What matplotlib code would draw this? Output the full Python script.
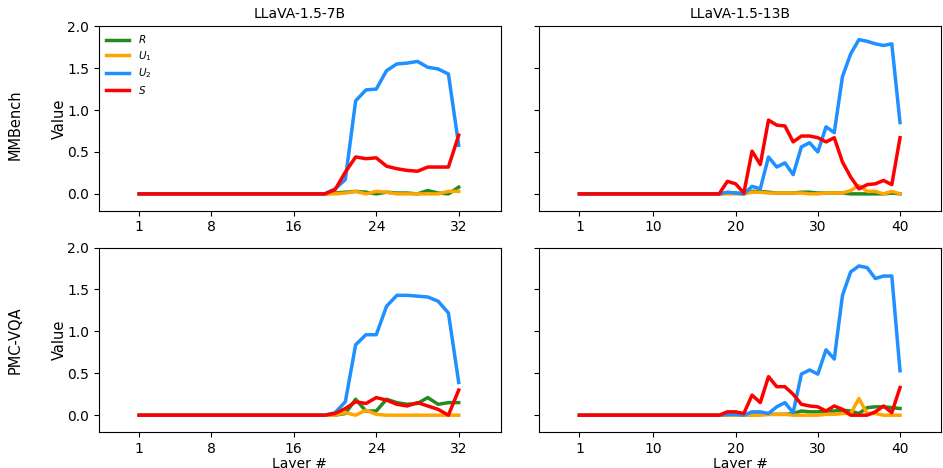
import matplotlib.pyplot as plt
import numpy as np

# layers
layers_7b = np.arange(1, 33)
layers_13b = np.arange(1, 41)

# LLaVA-1.5-7B, MMBench (layers 1..18 are zero)
mmb7_R = [0.0] * 18 + [0.0, 0.01, 0.02, 0.03, 0.02, 0.0, 0.02, 0.01, 0.01, 0.0, 0.04, 0.01, 0.0, 0.08]
mmb7_U1 = [0.0] * 18 + [0.0, 0.0, 0.01, 0.03, 0.0, 0.03, 0.02, 0.0, 0.0, 0.0, 0.0, 0.0, 0.03, 0.03]
mmb7_U2 = [0.0] * 18 + [0.0, 0.06, 0.17, 1.11, 1.24, 1.25, 1.47, 1.55, 1.56, 1.58, 1.51, 1.49, 1.43, 0.58]
mmb7_S = [0.0] * 18 + [0.0, 0.05, 0.26, 0.44, 0.42, 0.43, 0.33, 0.30, 0.28, 0.27, 0.32, 0.32, 0.32, 0.70]

# LLaVA-1.5-13B, MMBench (layers 1..17 are zero)
mmb13_R = [0.0] * 17 + [0.0, 0.01, 0.01, 0.0, 0.03, 0.03, 0.02, 0.01, 0.01, 0.01, 0.02, 0.02, 0.01, 0.01,
                        0.01, 0.01, 0.0, 0.0, 0.0, 0.0, 0.0, 0.01, 0.0]
mmb13_U1 = [0.0] * 17 + [0.0, 0.0, 0.0, 0.0, 0.02, 0.02, 0.01, 0.01, 0.01, 0.01, 0.01, 0.0, 0.0, 0.01,
                         0.01, 0.01, 0.04, 0.10, 0.03, 0.03, 0.0, 0.03, 0.0]
mmb13_U2 = [0.0] * 17 + [0.0, 0.02, 0.01, 0.0, 0.09, 0.06, 0.44, 0.32, 0.37, 0.23, 0.56, 0.61, 0.50, 0.80,
                         0.73, 1.40, 1.67, 1.84, 1.82, 1.79, 1.77, 1.79, 0.85]
mmb13_S = [0.0] * 17 + [0.0, 0.15, 0.12, 0.01, 0.51, 0.35, 0.88, 0.82, 0.81, 0.62, 0.69, 0.69, 0.67, 0.62,
                        0.67, 0.38, 0.20, 0.06, 0.11, 0.12, 0.16, 0.11, 0.67]

# LLaVA-1.5-7B, PMC-VQA
pmc7_R = [0.0] * 18 + [0.0, 0.0, 0.02, 0.19, 0.05, 0.05, 0.19, 0.15, 0.13, 0.14, 0.21, 0.13, 0.15, 0.15]
pmc7_U1 = [0.0] * 18 + [0.0, 0.0, 0.03, 0.0, 0.06, 0.01, 0.0, 0.0, 0.0, 0.0, 0.0, 0.0, 0.0, 0.0]
pmc7_U2 = [0.0] * 18 + [0.0, 0.03, 0.16, 0.84, 0.96, 0.96, 1.30, 1.43, 1.43, 1.42, 1.41, 1.36, 1.22, 0.39]
pmc7_S = [0.0] * 18 + [0.0, 0.02, 0.08, 0.16, 0.14, 0.21, 0.18, 0.13, 0.11, 0.15, 0.11, 0.07, 0.0, 0.30]

# LLaVA-1.5-13B, PMC-VQA
pmc13_R = [0.0] * 17 + [0.0, 0.0, 0.0, 0.0, 0.0, 0.01, 0.01, 0.01, 0.01, 0.02, 0.05, 0.04, 0.04, 0.05,
                        0.05, 0.06, 0.05, 0.02, 0.09, 0.10, 0.10, 0.09, 0.08]
pmc13_U1 = [0.0] * 17 + [0.0, 0.0, 0.0, 0.0, 0.0, 0.0, 0.01, 0.01, 0.01, 0.0, 0.0, 0.0, 0.0, 0.01,
                         0.01, 0.02, 0.02, 0.20, 0.02, 0.02, 0.0, 0.0, 0.0]
pmc13_U2 = [0.0] * 17 + [0.0, 0.01, 0.01, 0.0, 0.04, 0.04, 0.02, 0.10, 0.15, 0.03, 0.49, 0.54, 0.49, 0.78,
                         0.67, 1.43, 1.71, 1.78, 1.76, 1.63, 1.66, 1.66, 0.53]
pmc13_S = [0.0] * 17 + [0.0, 0.04, 0.04, 0.02, 0.24, 0.15, 0.46, 0.34, 0.34, 0.25, 0.13, 0.11, 0.10, 0.05,
                        0.11, 0.07, 0.0, 0.0, 0.0, 0.04, 0.11, 0.03, 0.33]

models = ["LLaVA-1.5-7B", "LLaVA-1.5-13B"]
datasets = ["MMBench", "PMC-VQA"]
ticks_7b = [1, 8, 16, 24, 32]
ticks_13b = [1, 10, 20, 30, 40]

panels = {
    (0, 0): (layers_7b, mmb7_R, mmb7_U1, mmb7_U2, mmb7_S),
    (0, 1): (layers_13b, mmb13_R, mmb13_U1, mmb13_U2, mmb13_S),
    (1, 0): (layers_7b, pmc7_R, pmc7_U1, pmc7_U2, pmc7_S),
    (1, 1): (layers_13b, pmc13_R, pmc13_U1, pmc13_U2, pmc13_S),
}

colors = ["forestgreen", "orange", "dodgerblue", "red"]
labels = ["$R$", "$U_1$", "$U_2$", "$S$"]

fig, axes = plt.subplots(2, 2, figsize=(9.43, 4.68), dpi=100, sharey=True)
fig.subplots_adjust(left=0.105, right=0.998, top=0.944, bottom=0.077, wspace=0.095, hspace=0.2)

for (r, c), (x, *series) in panels.items():
    ax = axes[r, c]
    for y, col, lab in zip(series, colors, labels):
        ax.plot(x, y, color=col, lw=2.5, label=lab)
    ax.set_ylim(-0.2, 2.0)
    ax.set_yticks([0.0, 0.5, 1.0, 1.5, 2.0])
    if c == 0:
        ax.set_xlim(-2.9, 36.1)
        ax.set_xticks(ticks_7b)
        ax.set_ylabel("Value", fontsize=10.5, labelpad=0)
    else:
        ax.set_xlim(-3.9, 45)
        ax.set_xticks(ticks_13b)
    if r == 0:
        ax.set_title(models[c], fontsize=10)
    else:
        ax.set_xlabel("Layer #", labelpad=1)

axes[0, 0].legend(loc="upper left", frameon=False, fontsize=7.5, handlelength=2.2,
                  labelspacing=0.35, borderaxespad=0.3)

fig.text(0.016, 0.733, datasets[0], rotation=90, va="center", ha="center", fontsize=10.5)
fig.text(0.016, 0.274, datasets[1], rotation=90, va="center", ha="center", fontsize=10.5)

plt.savefig("out.png", dpi=100)
plt.close("all")
